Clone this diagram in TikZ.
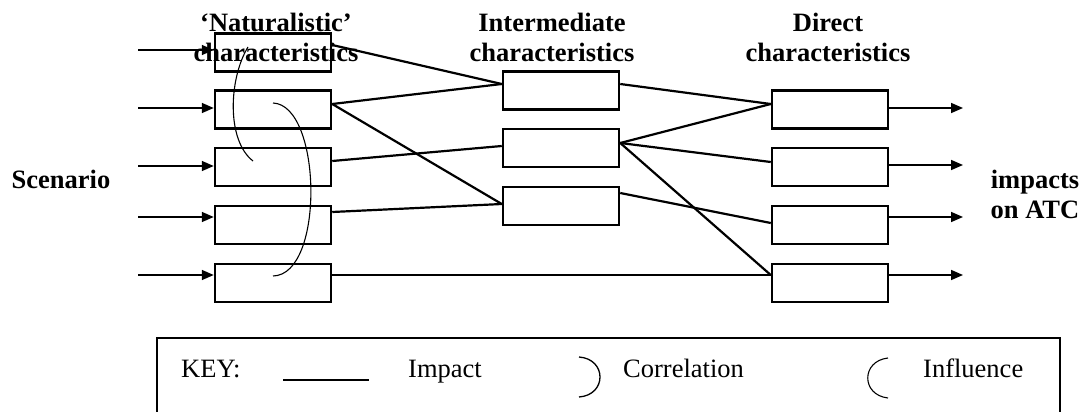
\documentclass[tikz,border=0pt]{standalone}
\usepackage{fontspec}
\setmainfont{Liberation Serif}
\usetikzlibrary{arrows.meta}
\begin{document}
\begin{tikzpicture}[x=1pt,y=-1pt,
  box/.style={draw,line width=2.5pt,minimum width=116pt,minimum height=38pt,inner sep=0pt},
  imp/.style={line width=2.2pt},
  arr/.style={line width=1.6pt,-{Triangle[length=12pt,width=10pt]}},
  crv/.style={line width=1.1pt},
  head/.style={font=\fontsize{26.5}{30}\selectfont\bfseries,align=center,inner sep=0pt,anchor=base},
  keytext/.style={font=\fontsize{26.5}{30}\selectfont,inner sep=0pt,anchor=base west}]
\useasboundingbox (0,0) rectangle (1084,412);

% boxes
\node[box] (l1) at (273,52.5) {};
\node[box] (l2) at (273,109.5) {};
\node[box] (l3) at (273,167) {};
\node[box] (l4) at (273,225) {};
\node[box] (l5) at (273,283) {};
\node[box] (m1) at (561,90.5) {};
\node[box] (m2) at (561,148) {};
\node[box] (m3) at (561,206) {};
\node[box] (r1) at (830,109.5) {};
\node[box] (r2) at (830,167) {};
\node[box] (r3) at (830,225) {};
\node[box] (r4) at (830,283) {};

% input arrows
\coordinate (s1) at (138,50);
\coordinate (s2) at (138,108);
\coordinate (s3) at (138,166);
\coordinate (s4) at (138,217);
\coordinate (s5) at (138,275);
\draw[arr] (s1) -- (s1 -| l1.west);
\draw[arr] (s2) -- (s2 -| l2.west);
\draw[arr] (s3) -- (s3 -| l3.west);
\draw[arr] (s4) -- (s4 -| l4.west);
\draw[arr] (s5) -- (s5 -| l5.west);

% output arrows
\coordinate (t1) at (963,108);
\coordinate (t2) at (963,165);
\coordinate (t3) at (963,217);
\coordinate (t4) at (963,275);
\draw[arr] (r1.east |- t1) -- (t1);
\draw[arr] (r2.east |- t2) -- (t2);
\draw[arr] (r3.east |- t3) -- (t3);
\draw[arr] (r4.east |- t4) -- (t4);

% impacts
\draw[imp] ([yshift=7.5pt]l1.east) -- ([yshift=6.5pt]m1.west);
\draw[imp] ([yshift=5.5pt]l2.east) -- ([yshift=6.5pt]m1.west);
\draw[imp] ([yshift=5.5pt]l2.east) -- ([yshift=2pt]m3.west);
\draw[imp] ([yshift=6pt]l3.east) -- ([yshift=2pt]m2.west);
\draw[imp] ([yshift=13pt]l4.east) -- ([yshift=2pt]m3.west);
\draw[imp] ([yshift=8pt]l5.east) -- ([yshift=8pt]r4.west);
\draw[imp] ([yshift=6.5pt]m1.east) -- ([yshift=5.5pt]r1.west);
\draw[imp] ([yshift=5pt]m2.east) -- ([yshift=5.5pt]r1.west);
\draw[imp] ([yshift=5pt]m2.east) -- ([yshift=5pt]r2.west);
\draw[imp] ([yshift=5pt]m2.east) -- ([yshift=8pt]r4.west);
\draw[imp] ([yshift=13pt]m3.east) -- ([yshift=2pt]r3.west);

% influence and correlation curves
\draw[crv] (248,47) .. controls (229,78) and (226,140) .. (253,161);
\draw[crv] (273,103) .. controls (322,105) and (325,275) .. (273,276);

% headings
\node[head] (hn) at (276,62) {‘Naturalistic’\\characteristics};
\node[head] (hi) at (552,62) {Intermediate\\characteristics};
\node[head] (hd) at (828,62) {Direct\\characteristics};
\node[head] (hs) at (61,188) {Scenario};
\node[head] (ho) at (1035,218) {impacts\\on ATC};

% key
\draw[line width=2.2pt] (157,413) -- (157,338) -- (1060,338) -- (1060,413);
\node[keytext] (k0) at (181,377) {KEY:};
\draw[imp] (283,380) -- (369,380);
\node[keytext] (k1) at (408,377) {Impact};
\draw[crv,line width=1.3pt] (579,357) .. controls (607,359) and (607,395) .. (579,397);
\node[keytext] (k2) at (623,377) {Correlation};
\draw[crv] (888,358) .. controls (861,361) and (861,395) .. (888,398);
\node[keytext] (k3) at (923,377) {Influence};
\end{tikzpicture}
\end{document}
